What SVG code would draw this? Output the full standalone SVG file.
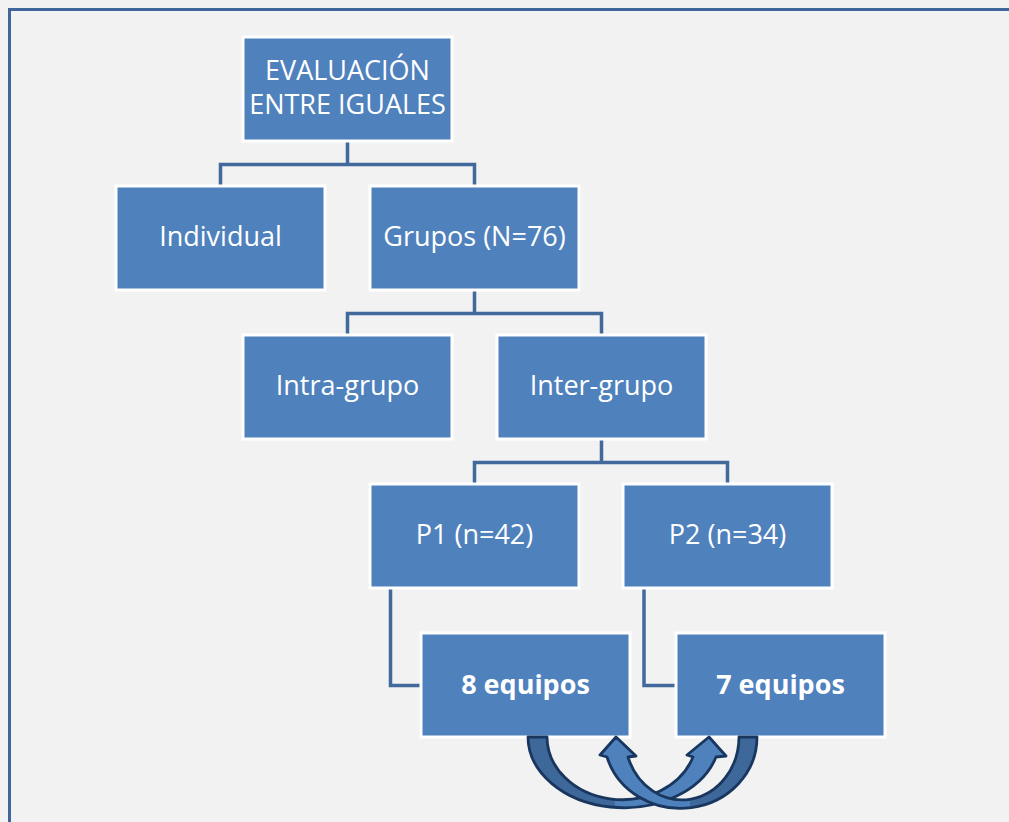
<svg xmlns="http://www.w3.org/2000/svg" width="1009" height="822" viewBox="0 0 1009 822">
<style>
.box{fill:#4f81bd;stroke:#ffffff;stroke-width:3}
.t{font-family:"Open Sans","Liberation Sans",sans-serif;font-size:27px;fill:#ffffff;text-anchor:middle}
.b{font-weight:bold}
.con{fill:none;stroke:#41699c;stroke-width:3.5}
.dark{fill:#3e6899;stroke:none}
.light{fill:#4f81bd;stroke:none}
.outl{fill:none;stroke:#18365e;stroke-width:2.8;stroke-linejoin:round}
</style>
<rect x="0" y="0" width="1009" height="822" fill="#f2f2f2"/>
<path d="M9.5,830 V9.5 H1012" fill="none" stroke="#41669a" stroke-width="3"/>
<g id="connectors">
<path class="con" d="M347.5,141 V164.5 M220.5,186 V164.5 H474.5 V186"/>
<path class="con" d="M474.5,290 V313.5 M347.5,335 V313.5 H601.5 V335"/>
<path class="con" d="M601.5,439 V462.5 M474.5,484 V462.5 H727.5 V484"/>
<path class="con" d="M390.5,588 V685.5 H421"/>
<path class="con" d="M644,588 V685.5 H676"/>
</g>
<g id="evaluacion"><rect class="box" x="243" y="37" width="209" height="104"/>
<text class="t" x="347.5" y="80">EVALUACIÓN</text><text class="t" x="347.5" y="114">ENTRE IGUALES</text></g>
<g id="individual"><rect class="box" x="116" y="186" width="209" height="104"/><text class="t" x="220.5" y="246">Individual</text></g>
<g id="grupos"><rect class="box" x="370" y="186" width="209" height="104"/><text class="t" x="474.5" y="246">Grupos (N=76)</text></g>
<g id="intra"><rect class="box" x="243" y="335" width="209" height="104"/><text class="t" x="347.5" y="395">Intra-grupo</text></g>
<g id="inter"><rect class="box" x="497" y="335" width="209" height="104"/><text class="t" x="601.5" y="395">Inter-grupo</text></g>
<g id="p1"><rect class="box" x="370" y="484" width="209" height="104"/><text class="t" x="474.5" y="544">P1 (n=42)</text></g>
<g id="p2"><rect class="box" x="623" y="484" width="209" height="104"/><text class="t" x="727.5" y="544">P2 (n=34)</text></g>
<g id="equipos8"><rect class="box" x="421" y="633" width="209" height="104"/><text class="t b" x="525.5" y="694">8 equipos</text></g>
<g id="equipos7"><rect class="box" x="676" y="633" width="209" height="104"/><text class="t b" x="780.5" y="694">7 equipos</text></g>
<g id="arrowA">
<path class="dark" d="M528,737 A96,71 0 0 0 615,807.7 L615,799.7 A75,63 0 0 1 547,737 Z"/>
<path class="light" d="M615,807.7 A96,71 0 0 0 716,757 L726,756 L709,737 L687,755 L693,757 A75,63 0 0 1 615,799.7 Z"/>
<path class="outl" d="M528,737 A96,71 0 0 0 716,757 L726,756 L709,737 L687,755 L693,757 A75,63 0 0 1 547,737 Z"/>
</g>
<g id="arrowB">
<path class="dark" d="M757,737 A76.5,71 0 0 1 690,807.5 L690,799.4 A57,63 0 0 0 739,737 Z"/>
<path class="light" d="M690,807.5 A76.5,71 0 0 1 607,757 L600,755 L616,737 L636,756 L628,757 A57,63 0 0 0 690,799.4 Z"/>
<path class="outl" d="M757,737 A76.5,71 0 0 1 607,757 L600,755 L616,737 L636,756 L628,757 A57,63 0 0 0 739,737 Z"/>
</g>
</svg>
